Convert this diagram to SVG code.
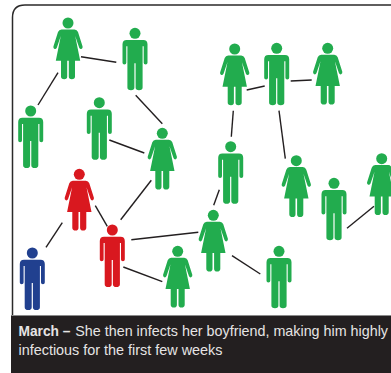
<svg xmlns="http://www.w3.org/2000/svg" width="391" height="373" viewBox="0 0 391 373">
<style>
.g{fill:#22ac4e}.r{fill:#d9181f}.b{fill:#21408f}
#links line{stroke:#231f20;stroke-width:1.4;stroke-linecap:butt}
text{font-family:"Liberation Sans",Arial,sans-serif;font-size:14.500px;fill:#e6e4e4}
</style>
<defs>
<g id="man"><circle cx="0" cy="0" r="5.500"/><path d="M-8.300 6.700H8.300Q12.500 6.700 12.500 11V29.500Q12.500 31.200 10.600 31.200Q8.700 31.200 8.700 29.500V13H7.600V54.200Q7.600 57 4 57Q0.600 57 0.600 54.200V30H-0.600V54.200Q-0.600 57 -4 57Q-7.600 57 -7.600 54.200V13H-8.700V29.500Q-8.700 31.200 -10.600 31.200Q-12.500 31.200 -12.500 29.500V11Q-12.500 6.700 -8.300 6.700Z"/></g>
<g id="woman"><circle cx="0" cy="0" r="5.500"/><path d="M-6.500 6.400H6.500Q9 6.400 10 9L14.600 23.500Q15 25.400 13.400 26Q12 26.400 11.200 24.800L7.200 13L12.200 37.800H7V53.500Q7 56.300 3.700 56.300Q0.800 56.300 0.800 53.500V37.800H-0.800V53.500Q-0.800 56.300 -3.700 56.300Q-7 56.300 -7 53.500V37.800H-12.200L-7.200 13L-11.200 24.800Q-12 26.400 -13.400 26Q-15 25.400 -14.600 23.500L-10 9Q-9 6.400 -6.500 6.400Z"/></g>
</defs>
<rect width="391" height="373" fill="#fff"/>
<path id="frame" d="M391 5H25Q12.500 5 12.500 17.500V316" fill="none" stroke="#2b2a2a" stroke-width="1.500"/>
<g id="links">
<line x1="81" y1="56.700" x2="116.300" y2="62.300"/>
<line x1="58" y1="72.700" x2="38" y2="105"/>
<line x1="135.700" y1="95.300" x2="162.300" y2="123.700"/>
<line x1="109.300" y1="140" x2="144.300" y2="153"/>
<line x1="151.300" y1="180.300" x2="120.700" y2="219.700"/>
<line x1="95.300" y1="205.700" x2="107.300" y2="226.300"/>
<line x1="62.300" y1="222.700" x2="46" y2="247.300"/>
<line x1="131.300" y1="239.700" x2="198.300" y2="232.300"/>
<line x1="123.300" y1="267" x2="162.300" y2="281.700"/>
<line x1="232" y1="255.700" x2="260.300" y2="274"/>
<line x1="213.700" y1="205.300" x2="219.300" y2="189.700"/>
<line x1="347" y1="228.300" x2="374" y2="206.300"/>
<line x1="246.700" y1="90" x2="264.700" y2="86"/>
<line x1="290.700" y1="81" x2="311.700" y2="80"/>
<line x1="233.300" y1="110.700" x2="231.300" y2="136.700"/>
<line x1="279" y1="110.700" x2="285.300" y2="158.700"/>
</g>
<g id="w1" class="g"><use href="#woman" x="68" y="23"/></g>
<g id="m1" class="g"><use href="#man" x="135" y="33.300"/></g>
<g id="m2" class="g"><use href="#man" x="30.700" y="111"/></g>
<g id="m3" class="g"><use href="#man" x="99.300" y="102.700"/></g>
<g id="w2" class="g"><use href="#woman" x="162.300" y="133.300"/></g>
<g id="w3" class="r"><use href="#woman" x="79.300" y="174.300"/></g>
<g id="m4" class="r"><use href="#man" x="112.300" y="230"/></g>
<g id="m5" class="b"><use href="#man" x="32.300" y="253"/></g>
<g id="w4" class="g"><use href="#woman" x="177.700" y="251.300"/></g>
<g id="w5" class="g"><use href="#woman" x="213.300" y="215.300"/></g>
<g id="m6" class="g"><use href="#man" x="279" y="251.300"/></g>
<g id="m7" class="g"><use href="#man" x="230.700" y="146.700"/></g>
<g id="w6" class="g"><use href="#woman" x="234.700" y="49"/></g>
<g id="m8" class="g"><use href="#man" x="276.700" y="48.300"/></g>
<g id="w7" class="g"><use href="#woman" x="327.700" y="48.300"/></g>
<g id="w8" class="g"><use href="#woman" x="296.300" y="160.700"/></g>
<g id="m9" class="g"><use href="#man" x="334" y="183.300"/></g>
<g id="w9" class="g"><use href="#woman" x="381.700" y="158.700"/></g>
<g id="caption">
<rect x="11" y="315.500" width="380" height="57.500" fill="#231f20"/>
<rect x="12" y="315" width="379" height="1" fill="#8a8a8a"/>
<text x="18.500" y="335.700" font-weight="700" textLength="52" lengthAdjust="spacingAndGlyphs">March –</text>
<text x="75.300" y="335.700" textLength="312.700" lengthAdjust="spacingAndGlyphs">She then infects her boyfriend, making him highly</text>
<text x="18.500" y="354.700" textLength="204" lengthAdjust="spacingAndGlyphs">infectious for the first few weeks</text>
</g>
</svg>
